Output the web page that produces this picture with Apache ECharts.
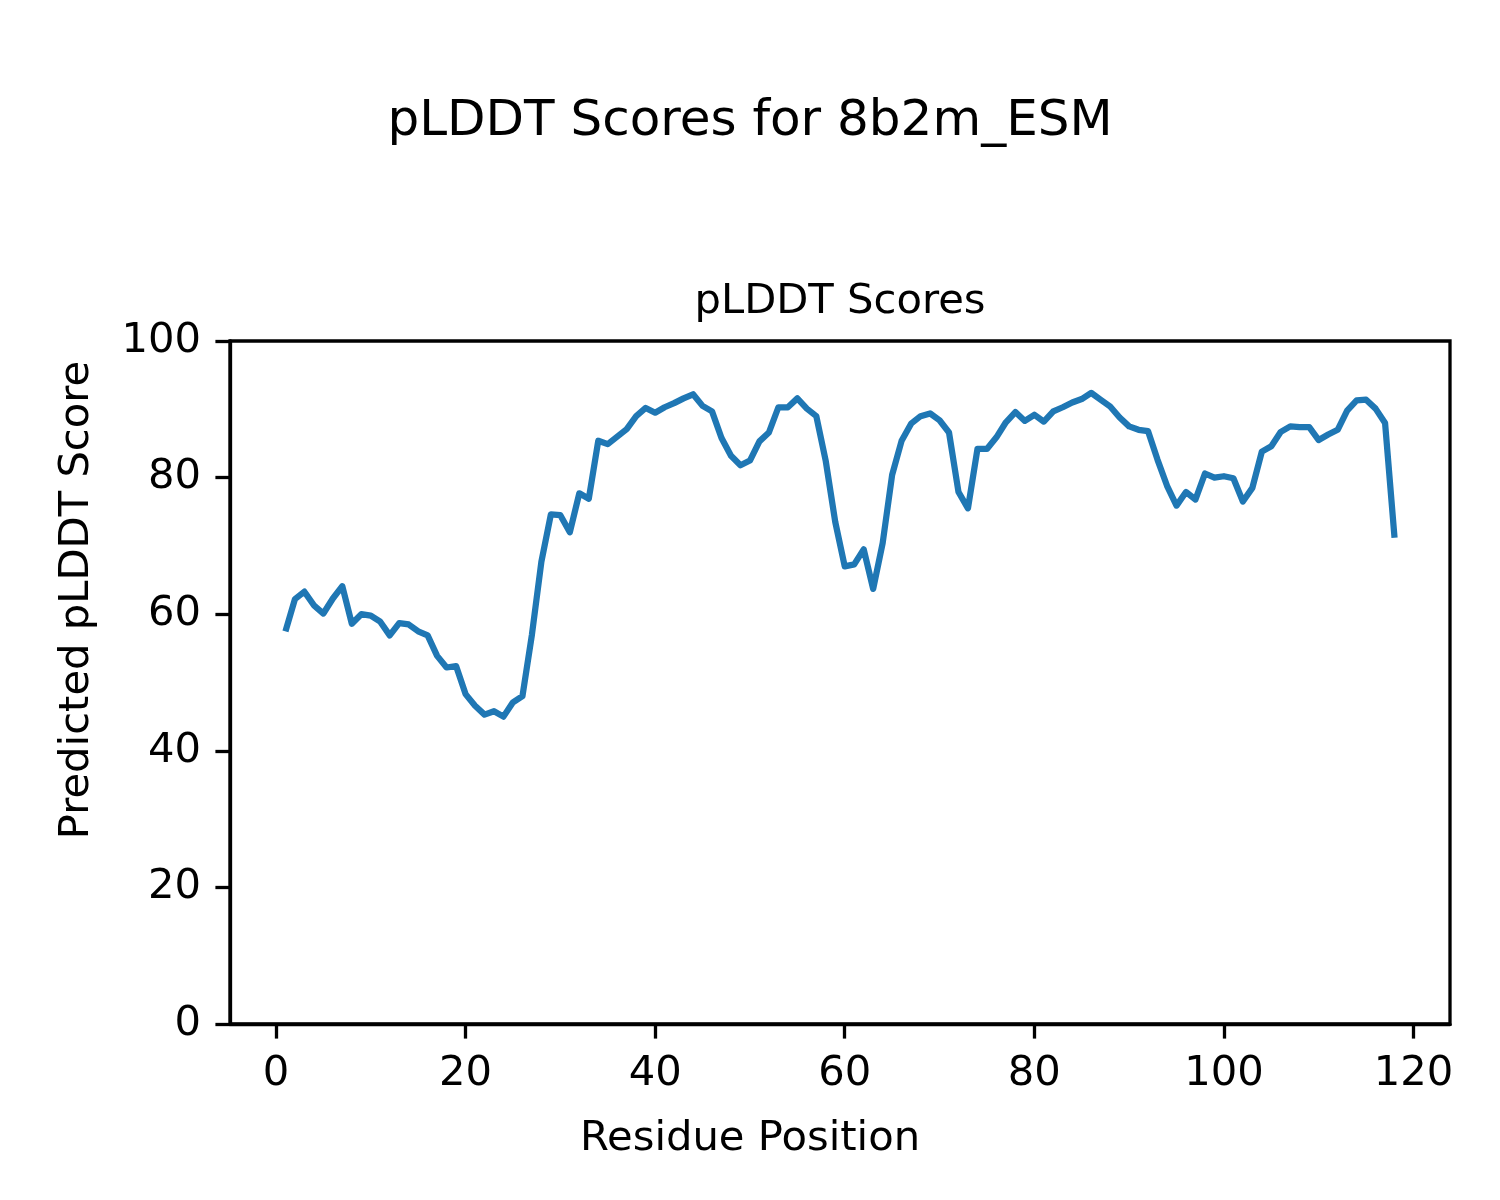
<!DOCTYPE html>
<html>
<head>
<meta charset="utf-8">
<script src="https://cdn.jsdelivr.net/npm/echarts@6/dist/echarts.min.js"></script>
<style>html,body{margin:0;padding:0;background:#fff}#c{width:1500px;height:1200px}</style>
</head>
<body>
<div id="c"></div>
<script>
const positions = [1,2,3,4,5,6,7,8,9,10,11,12,13,14,15,16,17,18,19,20,21,22,23,24,25,26,27,28,29,30,31,32,33,34,35,36,37,38,39,40,41,42,43,44,45,46,47,48,49,50,51,52,53,54,55,56,57,58,59,60,61,62,63,64,65,66,67,68,69,70,71,72,73,74,75,76,77,78,79,80,81,82,83,84,85,86,87,88,89,90,91,92,93,94,95,96,97,98,99,100,101,102,103,104,105,106,107,108,109,110,111,112,113,114,115,116,117,118];
const plddt = [57.5,62.2,63.3,61.3,60.1,62.3,64.1,58.6,60.0,59.8,58.9,56.9,58.7,58.5,57.5,56.9,53.9,52.2,52.4,48.3,
46.6,45.3,45.8,45.0,47.1,48.0,57.0,67.7,74.6,74.5,72.0,77.7,76.9,85.4,84.9,86.0,87.1,89.0,90.2,89.5,
90.3,90.9,91.6,92.2,90.5,89.7,85.8,83.2,81.8,82.5,85.3,86.6,90.3,90.3,91.6,90.1,89.0,82.4,73.5,67.0,
67.3,69.5,63.7,70.4,80.4,85.4,87.9,89.0,89.4,88.4,86.6,77.9,75.5,84.2,84.2,85.9,88.1,89.6,88.3,89.2,
88.2,89.7,90.3,91.0,91.5,92.4,91.4,90.4,88.8,87.5,87.0,86.8,82.6,78.8,75.9,77.9,76.8,80.6,80.0,80.2,
79.9,76.5,78.5,83.8,84.6,86.7,87.5,87.4,87.4,85.5,86.3,87.0,89.8,91.3,91.4,90.1,88.0,71.2];
const xTicks = [0,20,40,60,80,100,120];
const yTicks = [0,20,40,60,80,100];
const suptitle = 'pLDDT Scores for 8b2m_ESM';
const axTitle = 'pLDDT Scores';
const xLabel = 'Residue Position';
const yLabel = 'Predicted pLDDT Score';

const font = 'DejaVu Sans';
const chart = echarts.init(document.getElementById('c'), null, {renderer:'canvas'});
const xmin = 1 - 0.05*(118-1), xmax = 118 + 0.05*(118-1);
chart.setOption({
  animation:false,
  backgroundColor:'#fff',
  title:[
    {text:suptitle,left:'center',top:92,textStyle:{fontFamily:font,fontSize:50,fontWeight:'normal',color:'#000'}},
  ],
  graphic:[
    {type:'text',x:840,y:302,style:{text:axTitle,fontFamily:font,fontSize:41.7,fill:'#000',align:'center',verticalAlign:'middle'}},
    {type:'text',x:750,y:1139,style:{text:xLabel,fontFamily:font,fontSize:41.7,fill:'#000',align:'center',verticalAlign:'middle'}},
    {type:'text',x:77,y:600,rotation:Math.PI/2,style:{text:yLabel,fontFamily:font,fontSize:41.7,fill:'#000',align:'center',verticalAlign:'middle'}}
  ],
  grid:{left:230,right:50,top:341,bottom:176,show:true,borderColor:'#000',borderWidth:3.3,backgroundColor:'transparent',containLabel:false},
  xAxis:{type:'value',min:xmin,max:xmax,
    axisLine:{show:true,onZero:false,lineStyle:{color:'#000',width:3.3}},
    axisTick:{show:true,length:14.6,inside:false,lineStyle:{color:'#000',width:3.3},customValues:xTicks},
    axisLabel:{fontFamily:font,fontSize:41.7,color:'#000',margin:29,customValues:xTicks},
    splitLine:{show:false}},
  yAxis:{type:'value',min:0,max:100,interval:20,
    axisLine:{show:true,onZero:false,lineStyle:{color:'#000',width:3.3}},
    axisTick:{show:true,length:14.6,inside:false,lineStyle:{color:'#000',width:3.3}},
    axisLabel:{fontFamily:font,fontSize:41.7,color:'#000',margin:29},
    splitLine:{show:false}},
  series:[{type:'line',data:positions.map((p,i)=>[p,plddt[i]]),showSymbol:false,symbol:'none',
    lineStyle:{color:'#1f77b4',width:6.25,join:'round',cap:'butt'},z:3}]
});
</script>
</body>
</html>
